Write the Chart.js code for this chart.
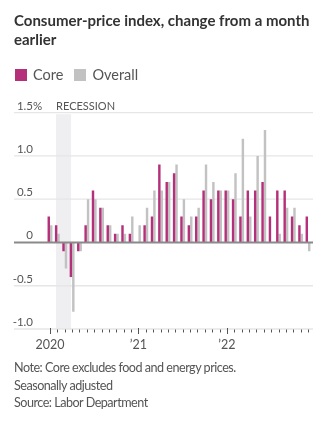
<!DOCTYPE html>
<html>
<head>
<meta charset="utf-8">
<script src="https://cdn.jsdelivr.net/npm/chart.js@4/dist/chart.umd.min.js"></script>
<style>
  html, body { margin: 0; padding: 0; background: #fff; }
  body { width: 335px; height: 424px; position: relative; overflow: hidden; font-family: Lato, "Noto Sans", sans-serif; }
  #chart { position: absolute; left: 0; top: 0; }
  #title { position: absolute; left: 14px; top: 11px; width: 318px; font-weight: 700; font-size: 15px; line-height: 19px; color: #333; }
  #legend { position: absolute; left: 15px; top: 66px; font-size: 14.5px; line-height: 18px; color: #555; display: flex; align-items: center; }
  #legend .sw { display: inline-block; width: 12px; height: 12px; margin-right: 6px; }
  #legend .item { display: flex; align-items: center; margin-right: 11px; }
  #notes { position: absolute; left: 14px; top: 359px; font-size: 12.6px; letter-spacing: -0.5px; line-height: 17.5px; color: #555; }
</style>
</head>
<body>
<canvas id="chart" width="335" height="424"></canvas>
<div id="title">Consumer-price index, change from a month earlier</div>
<div id="legend">
  <span class="item"><span class="sw" id="swCore"></span>Core</span>
  <span class="item"><span class="sw" id="swOverall"></span>Overall</span>
</div>
<div id="notes">Note: Core excludes food and energy prices.<br>Seasonally adjusted<br>Source: Labor Department</div>
<script>
// Monthly categories, Jan 2020 – Dec 2022
const months = [
  'Jan 2020','Feb 2020','Mar 2020','Apr 2020','May 2020','Jun 2020','Jul 2020','Aug 2020','Sep 2020','Oct 2020','Nov 2020','Dec 2020',
  'Jan 2021','Feb 2021','Mar 2021','Apr 2021','May 2021','Jun 2021','Jul 2021','Aug 2021','Sep 2021','Oct 2021','Nov 2021','Dec 2021',
  'Jan 2022','Feb 2022','Mar 2022','Apr 2022','May 2022','Jun 2022','Jul 2022','Aug 2022','Sep 2022','Oct 2022','Nov 2022','Dec 2022'
];

// Percent change from previous month
const core = [
  0.3, 0.2, -0.1, -0.4, -0.1, 0.2, 0.6, 0.4, 0.2, 0.1, 0.2, 0.1,
  0.0, 0.2, 0.3, 0.9, 0.7, 0.8, 0.3, 0.2, 0.3, 0.6, 0.5, 0.6,
  0.6, 0.5, 0.3, 0.6, 0.6, 0.7, 0.3, 0.6, 0.6, 0.3, 0.2, 0.3
];
const overall = [
  0.2, 0.1, -0.3, -0.8, -0.1, 0.5, 0.5, 0.4, 0.2, 0.1, 0.1, 0.3,
  0.2, 0.4, 0.6, 0.6, 0.7, 0.9, 0.5, 0.3, 0.4, 0.9, 0.7, 0.6,
  0.6, 0.8, 1.2, 0.3, 1.0, 1.3, 0.0, 0.1, 0.4, 0.4, 0.1, -0.1
];

// Axis labels
const yTickValues = [1.5, 1.0, 0.5, 0, -0.5, -1.0];
const yTickLabels = ['1.5', '1.0', '0.5', '0', '-0.5', '-1.0'];
const yearTickMonths = ['Jan 2020', 'Jan 2021', 'Jan 2022'];
const yearTickLabels = ['2020', '\u201921', '\u201922'];

// Recession period
const recessionStart = 'Feb 2020';
const recessionEnd = 'Apr 2020';

const CORE_COLOR = '#b5307a';
const OVERALL_COLOR = '#c2c2c2';
document.getElementById('swCore').style.background = CORE_COLOR;
document.getElementById('swOverall').style.background = OVERALL_COLOR;

const GRID_LEFT = 14, GRID_RIGHT = 313;
const LABEL_FONT = '11.5px Lato, "Noto Sans", sans-serif';

const decorations = {
  id: 'decorations',
  beforeDatasetsDraw(chart) {
    const { ctx, scales: { x, y } } = chart;
    ctx.save();
    // recession band
    const bx0 = x.getPixelForValue(months.indexOf(recessionStart)) - 1.3;
    const bx1 = x.getPixelForValue(months.indexOf(recessionEnd)) - 1;
    const by0 = y.getPixelForValue(1.5) + 1.5;
    const by1 = y.getPixelForValue(-1.0);
    ctx.fillStyle = '#efeff1';
    ctx.fillRect(bx0, by0, bx1 - bx0, by1 - by0);

    // horizontal grid lines
    ctx.strokeStyle = '#e6e6e6';
    ctx.lineWidth = 1.3;
    yTickValues.forEach(v => {
      if (v === 0) return;
      const py = y.getPixelForValue(v);
      ctx.beginPath();
      ctx.moveTo(GRID_LEFT, py);
      ctx.lineTo(GRID_RIGHT, py);
      ctx.stroke();
    });

    // y labels, sitting above their lines
    ctx.font = LABEL_FONT;
    ctx.fillStyle = '#555';
    ctx.textBaseline = 'alphabetic';
    yTickValues.forEach((v, i) => {
      const py = y.getPixelForValue(v) - 3;
      ctx.textAlign = 'right';
      ctx.fillText(yTickLabels[i], 33, py);
      if (i === 0) {
        ctx.textAlign = 'left';
        ctx.fillText('%', 33, py);
      }
    });
    ctx.textAlign = 'left';
    ctx.font = '11px Lato, "Noto Sans", sans-serif';
    ctx.fillText('RECESSION', bx0, y.getPixelForValue(1.5) - 3);
    ctx.restore();
  },
  afterDatasetsDraw(chart) {
    const { ctx, scales: { x, y } } = chart;
    ctx.save();
    // zero line
    const zy = y.getPixelForValue(0);
    ctx.strokeStyle = '#8a8a8a';
    ctx.lineWidth = 1.8;
    ctx.beginPath();
    ctx.moveTo(GRID_LEFT, zy);
    ctx.lineTo(GRID_RIGHT, zy);
    ctx.stroke();

    // month ticks below the bottom line
    const base = y.getPixelForValue(-1.0);
    ctx.strokeStyle = '#555';
    ctx.lineWidth = 1;
    months.forEach((m, i) => {
      const px = Math.round(x.getPixelForValue(i)) + 0.5;
      const isYear = yearTickMonths.includes(m);
      ctx.beginPath();
      ctx.moveTo(px, base + (isYear ? -1 : 0.5));
      ctx.lineTo(px, base + (isYear ? 5 : 3.5));
      ctx.stroke();
    });

    // year labels
    ctx.font = '12.5px Lato, "Noto Sans", sans-serif';
    ctx.fillStyle = '#555';
    ctx.textAlign = 'center';
    ctx.textBaseline = 'alphabetic';
    yearTickMonths.forEach((m, i) => {
      ctx.fillText(yearTickLabels[i], x.getPixelForValue(months.indexOf(m)), base + 20);
    });
    ctx.restore();
  }
};

new Chart(document.getElementById('chart'), {
  type: 'bar',
  data: {
    labels: months,
    datasets: [
      { label: 'Core', data: core, backgroundColor: CORE_COLOR, categoryPercentage: 0.66, barPercentage: 1 },
      { label: 'Overall', data: overall, backgroundColor: OVERALL_COLOR, categoryPercentage: 0.66, barPercentage: 1 }
    ]
  },
  options: {
    responsive: false,
    devicePixelRatio: 1,
    animation: false,
    layout: { padding: { left: 46.3, right: 23.3, top: 112.7, bottom: 95 } },
    scales: {
      x: { display: false },
      y: { display: false, min: -1.0, max: 1.5 }
    },
    plugins: { legend: { display: false }, tooltip: { enabled: false } }
  },
  plugins: [decorations]
});
</script>
</body>
</html>
